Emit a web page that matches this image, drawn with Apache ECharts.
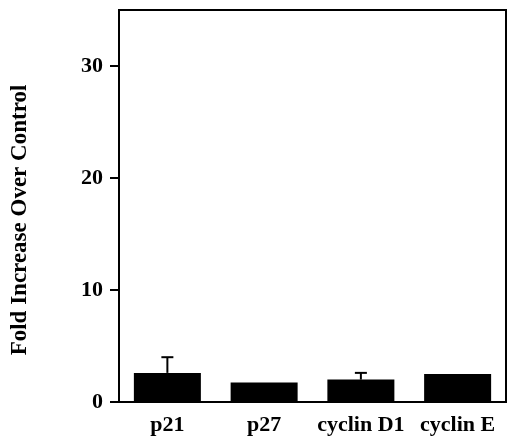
<!DOCTYPE html>
<html>
<head>
<meta charset="utf-8">
<style>
  html, body { margin: 0; padding: 0; background: #fff; }
  #chart { width: 511px; height: 443px; }
</style>
<script src="https://cdn.jsdelivr.net/npm/echarts@6/dist/echarts.min.js"></script>
</head>
<body>
<div id="chart"></div>
<script>
// Fold change of cell-cycle regulators relative to control
const categories = ['p21', 'p27', 'cyclin D1', 'cyclin E'];
const foldIncrease = [2.6, 1.75, 2.0, 2.5];
const errorUpper = [4.0, null, 2.6, null];
const yTicks = [0, 10, 20, 30];
const yTitle = 'Fold Increase Over Control';

const serif = '"Liberation Serif", "Times New Roman", serif';

const errorData = [];
categories.forEach((c, i) => {
  if (errorUpper[i] != null) errorData.push([i, foldIncrease[i], errorUpper[i]]);
});

const chart = echarts.init(document.getElementById('chart'));
chart.setOption({
  animation: false,
  backgroundColor: '#fff',
  grid: {
    left: 119, right: 5, top: 10, bottom: 41,
    show: true, borderColor: '#000', borderWidth: 2
  },
  xAxis: {
    type: 'category',
    data: categories,
    axisLine: { lineStyle: { color: '#000', width: 2 } },
    axisTick: { alignWithLabel: true, length: 9, lineStyle: { color: '#000', width: 2 } },
    axisLabel: {
      interval: 0, hideOverlap: false,
      color: '#000', fontFamily: serif, fontWeight: 'bold', fontSize: 22, margin: 12
    }
  },
  yAxis: {
    type: 'value',
    min: 0, max: 35, interval: 10,
    splitLine: { show: false },
    axisLine: { show: true, lineStyle: { color: '#000', width: 2 } },
    axisTick: { show: true, length: 9, customValues: yTicks, lineStyle: { color: '#000', width: 2 } },
    axisLabel: {
      color: '#000', fontFamily: serif, fontWeight: 'bold', fontSize: 22, margin: 16,
      customValues: yTicks
    }
  },
  graphic: [{
    type: 'text',
    x: 20, y: 220,
    rotation: Math.PI / 2,
    style: {
      text: yTitle,
      fill: '#000',
      font: 'bold 23px ' + serif,
      align: 'center',
      verticalAlign: 'middle'
    }
  }],
  series: [
    {
      type: 'bar',
      data: foldIncrease,
      barWidth: 67,
      itemStyle: { color: '#000' }
    },
    {
      type: 'custom',
      data: errorData,
      z: 3,
      renderItem: function (params, api) {
        const base = api.coord([api.value(0), api.value(1)]);
        const top = api.coord([api.value(0), api.value(2)]);
        const half = 6;
        return {
          type: 'group',
          children: [
            { type: 'line', shape: { x1: base[0], y1: base[1], x2: top[0], y2: top[1] },
              style: { stroke: '#000', lineWidth: 2 } },
            { type: 'line', shape: { x1: top[0] - half, y1: top[1], x2: top[0] + half, y2: top[1] },
              style: { stroke: '#000', lineWidth: 2 } }
          ]
        };
      }
    }
  ]
});
</script>
</body>
</html>
